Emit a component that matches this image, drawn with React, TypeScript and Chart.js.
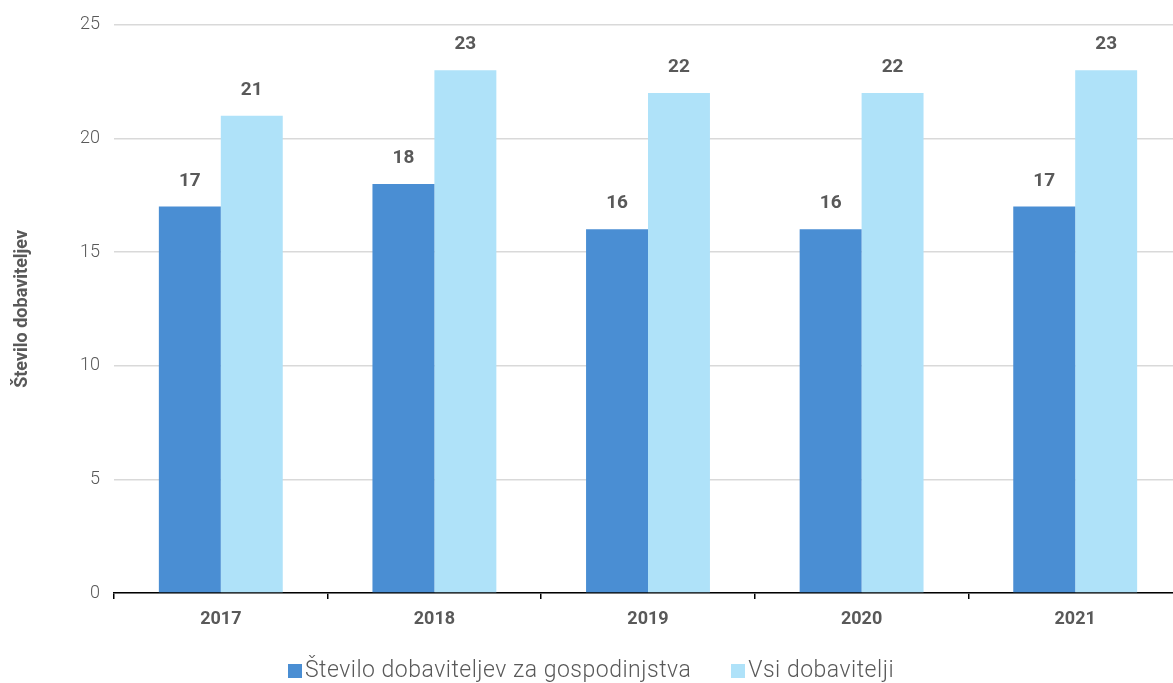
import React, { useEffect, useRef } from "react";
import { Chart, registerables } from "chart.js";

Chart.register(...registerables);

const years = ["2017", "2018", "2019", "2020", "2021"];
const householdSuppliers = [17, 18, 16, 16, 17];
const allSuppliers = [21, 23, 22, 22, 23];
const seriesNames = ["Število dobaviteljev za gospodinjstva", "Vsi dobavitelji"];
const seriesColors = ["#4A8ED3", "#AFE2F9"];
const yTitle = "Število dobaviteljev";

const FONT = "Roboto, 'DejaVu Sans', sans-serif";
const TEXT = "#595959";

const valueLabels = {
  id: "valueLabels",
  afterDatasetsDraw(chart: any) {
    const ctx = chart.ctx;
    ctx.save();
    ctx.font = `bold 19px ${FONT}`;
    ctx.fillStyle = TEXT;
    ctx.textAlign = "center";
    ctx.textBaseline = "alphabetic";
    chart.data.datasets.forEach((ds: any, i: number) => {
      const meta = chart.getDatasetMeta(i);
      meta.data.forEach((el: any, j: number) => {
        ctx.fillText(String(ds.data[j]), el.x, el.y - 21);
      });
    });
    ctx.restore();
  },
};

export default function App() {
  const ref = useRef<HTMLCanvasElement>(null);
  useEffect(() => {
    if (!ref.current) return;
    const chart = new Chart(ref.current, {
      type: "bar",
      data: {
        labels: years,
        datasets: [
          { label: seriesNames[0], data: householdSuppliers, backgroundColor: seriesColors[0] },
          { label: seriesNames[1], data: allSuppliers, backgroundColor: seriesColors[1] },
        ],
      },
      options: {
        animation: false,
        responsive: false,
        maintainAspectRatio: false,
        layout: { padding: { top: 24, left: 0, right: 0, bottom: 0 } },
        datasets: { bar: { categoryPercentage: 0.58, barPercentage: 1 } },
        plugins: {
          legend: { display: false },
          tooltip: { enabled: false },
        },
        scales: {
          x: {
            grid: { display: true, drawOnChartArea: false, drawTicks: true, tickLength: 6, color: "#000", lineWidth: 1.5 },
            border: { display: true, color: "#000", width: 1.5 },
            ticks: { color: TEXT, font: { family: FONT, size: 18, weight: "bold" }, padding: 10 },
            afterFit: (s: any) => { s.height = 90; },
          },
          y: {
            min: 0,
            max: 25,
            ticks: { stepSize: 5, color: TEXT, font: { family: FONT, size: 18, weight: "300" }, padding: 14 },
            grid: { color: "#d9d9d9", lineWidth: 1.5, drawTicks: false },
            border: { display: false },
            title: {
              display: true,
              text: yTitle,
              color: TEXT,
              font: { family: FONT, size: 18, weight: "bold" },
              padding: { top: 12, bottom: 4 },
            },
            afterFit: (s: any) => { s.width = 114; },
          },
        },
      },
      plugins: [valueLabels],
    });
    return () => chart.destroy();
  }, []);

  return (
    <div style={{ position: "fixed", left: 0, top: 0, width: 1173, height: 683, overflow: "hidden", background: "#fff" }}>
      <div style={{ position: "relative", width: 1182, height: 683 }}>
        <canvas ref={ref} width={1182} height={683} style={{ display: "block" }} />
        <div
          style={{
            position: "absolute",
            left: 0,
            top: 656,
            width: 1182,
            display: "flex",
            justifyContent: "center",
            gap: 40,
            fontFamily: FONT,
            fontSize: 23,
            fontWeight: 300,
            letterSpacing: "0.5px",
            color: TEXT,
            lineHeight: "27px",
          }}
        >
          {seriesNames.map((n, i) => (
            <div key={n} style={{ display: "flex", alignItems: "center" }}>
              <span style={{ display: "inline-block", width: 14, height: 14, background: seriesColors[i], marginRight: 3, marginTop: 3 }} />
              <span>{n}</span>
            </div>
          ))}
        </div>
      </div>
    </div>
  );
}
